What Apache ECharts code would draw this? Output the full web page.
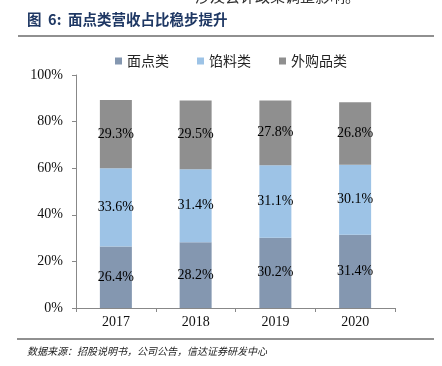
<!DOCTYPE html>
<html>
<head>
<meta charset="utf-8">
<script src="https://cdn.jsdelivr.net/npm/echarts@6/dist/echarts.min.js"></script>
<style>
  html, body { margin: 0; padding: 0; background: #fff; }
  #chart { width: 442px; height: 366px; }
</style>
</head>
<body>
<div id="chart"></div>
<script>
var years = ["2017", "2018", "2019", "2020"];
var mianDian = [26.4, 28.2, 30.2, 31.4];
var xianLiao = [33.6, 31.4, 31.1, 30.1];
var waiGou = [29.3, 29.5, 27.8, 26.8];
var seriesNames = ["面点类", "馅料类", "外购品类"];

var chartDom = document.getElementById("chart");
var myChart = echarts.init(chartDom);
var option;

var serif = "'Liberation Serif', 'Noto Sans CJK SC', serif";

function barLabel() {
  return {
    show: true,
    position: "inside",
    color: "#000",
    fontFamily: serif,
    fontSize: 14,
    formatter: function (p) {
      return p.value.toFixed(1) + "%";
    },
  };
}

option = {
  animation: false,
  color: ["#8497b0", "#9dc3e6", "#8f8f8f"],
  graphic: [
    {
      type: "text",
      left: 195,
      top: -11,
      style: {
        text: "涉及会计政策调整影响。",
        font: "15px 'Noto Sans CJK SC'",
        fill: "#333",
      },
    },
    {
      type: "text",
      left: 27,
      top: 12,
      style: {
        text: "图  6:  面点类营收占比稳步提升",
        font: "bold 14.5px 'Noto Sans CJK SC'",
        fill: "#1f3864",
      },
    },
    {
      type: "line",
      shape: { x1: 18, y1: 36, x2: 434, y2: 36 },
      style: { stroke: "#222", lineWidth: 1.2 },
    },
    {
      type: "line",
      shape: { x1: 17, y1: 339, x2: 434, y2: 339 },
      style: { stroke: "#222", lineWidth: 1.2 },
    },
    {
      type: "text",
      left: 27,
      top: 346,
      style: {
        text: "数据来源：招股说明书，公司公告，信达证券研发中心",
        font: "italic 10px 'Noto Sans CJK SC'",
        fill: "#222",
      },
    },
  ],
  legend: {
    top: 49,
    left: 110,
    itemWidth: 7,
    itemHeight: 7,
    itemGap: 28,
    icon: "rect",
    textStyle: {
      fontFamily: "'Noto Sans CJK SC'",
      fontSize: 14,
      color: "#222",
    },
    data: seriesNames,
  },
  grid: {
    left: 76,
    right: 47,
    top: 75,
    bottom: 58,
  },
  xAxis: {
    type: "category",
    data: years,
    axisLine: { lineStyle: { color: "#888" } },
    axisTick: { show: true, length: 4, lineStyle: { color: "#888" } },
    axisLabel: {
      color: "#111",
      fontFamily: serif,
      fontSize: 14,
      margin: 7,
    },
  },
  yAxis: {
    type: "value",
    min: 0,
    max: 100,
    interval: 20,
    axisLine: { show: true, lineStyle: { color: "#888" } },
    axisTick: { show: true, length: 4, lineStyle: { color: "#888" } },
    splitLine: { show: false },
    axisLabel: {
      color: "#111",
      fontFamily: serif,
      fontSize: 14,
      margin: 13,
      formatter: "{value}%",
    },
  },
  series: [
    {
      name: seriesNames[0],
      type: "bar",
      stack: "total",
      barWidth: 32,
      data: mianDian,
      label: barLabel(),
    },
    {
      name: seriesNames[1],
      type: "bar",
      stack: "total",
      barWidth: 32,
      data: xianLiao,
      label: barLabel(),
    },
    {
      name: seriesNames[2],
      type: "bar",
      stack: "total",
      barWidth: 32,
      data: waiGou,
      label: barLabel(),
    },
  ],
};

option && myChart.setOption(option);
window.addEventListener("resize", function () {
  myChart.resize();
});
</script>
</body>
</html>
